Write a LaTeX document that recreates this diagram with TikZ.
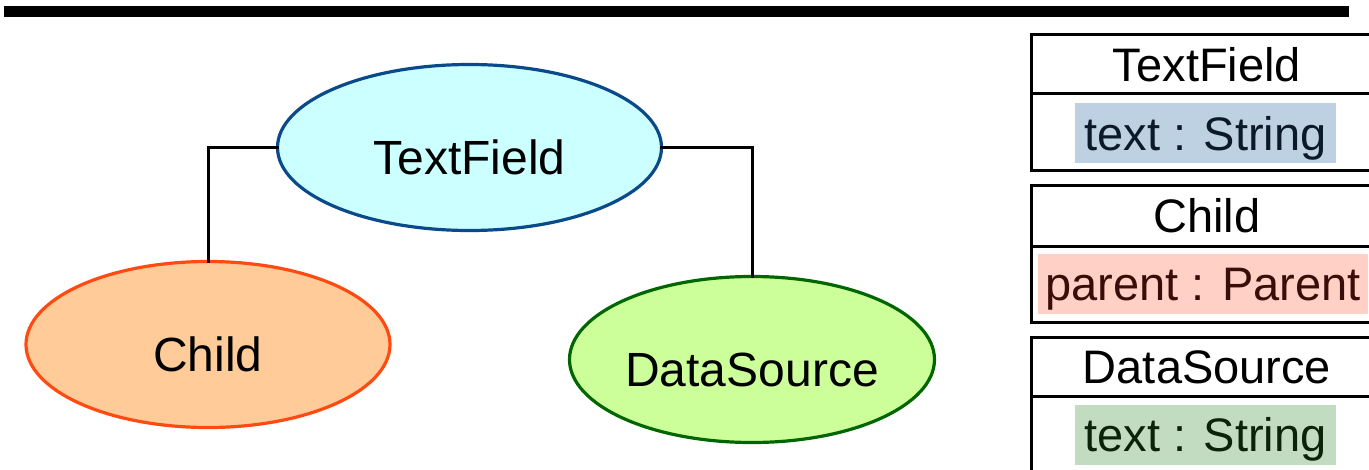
\documentclass[tikz,border=0pt]{standalone}
\usepackage{fontspec}
\setmainfont{Liberation Sans}
\usetikzlibrary{shapes.geometric}

\definecolor{tfFill}{HTML}{CCFFFF}
\definecolor{tfLine}{HTML}{0A4A8A}
\definecolor{childFill}{HTML}{FFCC99}
\definecolor{childLine}{HTML}{FF4A12}
\definecolor{dsFill}{HTML}{CCFF99}
\definecolor{dsLine}{HTML}{006600}
\definecolor{hlBlue}{HTML}{BED1E2}
\definecolor{hlPink}{HTML}{FFD0C6}
\definecolor{hlGreen}{HTML}{C2DCC2}
\definecolor{txBlue}{HTML}{0B1A2A}
\definecolor{txPink}{HTML}{3A0E08}
\definecolor{txGreen}{HTML}{0B220B}

\begin{document}
\begin{tikzpicture}[x=1pt,y=-1pt,
  entity/.style={ellipse, line width=3.2pt, inner sep=0pt, outer sep=0pt,
    minimum width=#1, minimum height=166pt,
    font=\fontsize{48}{58}\selectfont, text height=53pt, text depth=0pt},
  entity/.default=365pt,
  link/.style={line width=3pt, line cap=rect},
  cell/.style={rectangle, draw, line width=3pt, inner sep=0pt, outer sep=0pt,
    anchor=north west, minimum width=351pt, minimum height=#1,
    font=\fontsize{47}{56}\selectfont, text height=34pt, text depth=0pt},
  attr/.style={rectangle, fill=#1, inner xsep=9.5pt, inner ysep=13pt,
    font=\fontsize{47}{56}\selectfont, text height=34pt, text depth=0pt},
  rulebar/.style={fill=black, inner sep=0pt, minimum width=1345pt,
    minimum height=11pt, anchor=north west}
]
\useasboundingbox (0,0) rectangle (1369,469);
\clip (0,0) rectangle (1369,469);

% heading rule
\node[rulebar] (bar) at (4,6) {};

% entities
\node[entity=384pt, fill=tfFill, draw=tfLine] (tf) at (469.5,147.5) {TextField};
\node[entity=364pt, fill=childFill, draw=childLine] (child) at (208,344.5) {Child};
\node[entity=365pt, fill=dsFill, draw=dsLine] (ds) at (752,359.5) {DataSource};

% connectors
\draw[link] (tf.west) -| (child.north);
\draw[link] (tf.east) -| (ds.north);

% class boxes
\node[cell=59pt] (t1) at (1031.5,34.5) {TextField};
\node[cell=77pt] (a1) at (t1.south west) {};
\node[cell=60.5pt] (t2) at (1031.5,185.5) {Child};
\node[cell=76pt] (a2) at (t2.south west) {};
\node[cell=59.5pt] (t3) at (1031.5,337) {DataSource};
\node[cell=100pt] (a3) at (t3.south west) {};

% highlighted attributes
\node[attr=hlBlue, text=txBlue] (f1) at (1205.5,133) {text : String};
\node[attr=hlPink, text=txPink, inner xsep=7pt] (f2) at (1203,283.5) {parent : Parent};
\node[attr=hlGreen, text=txGreen] (f3) at (1205.5,434.5) {text : String};
\end{tikzpicture}
\end{document}
